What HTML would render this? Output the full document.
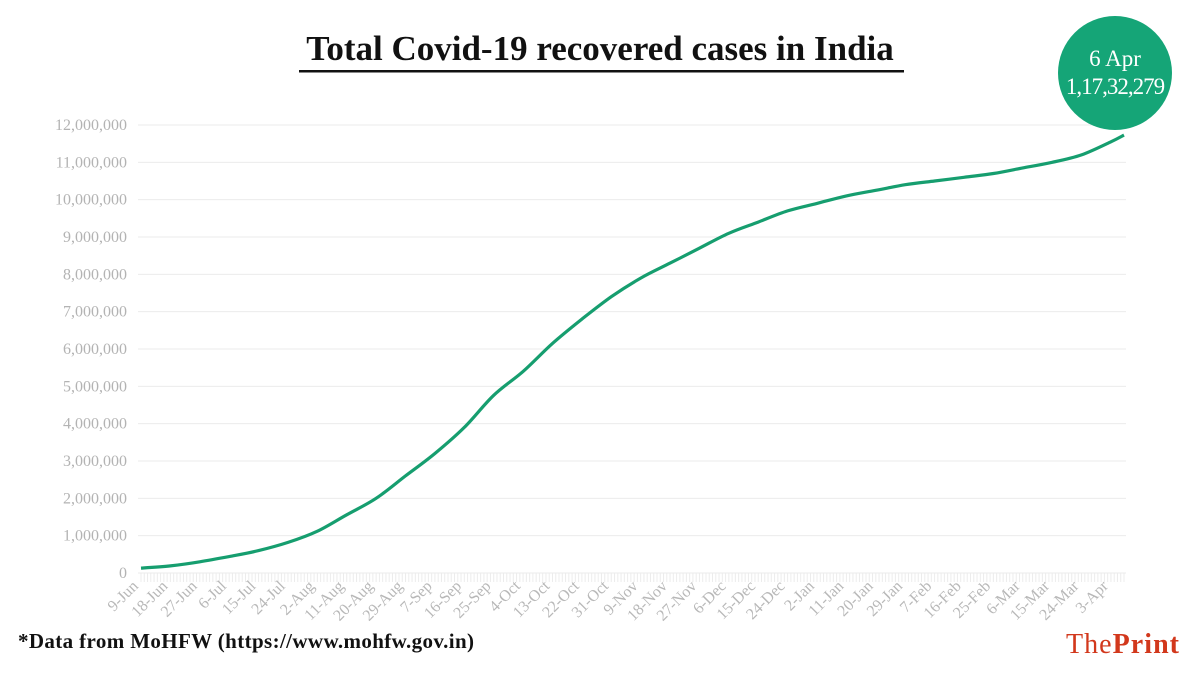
<!DOCTYPE html>
<html><head><meta charset="utf-8"><style>
body{margin:0;background:#fff;width:1200px;height:675px;overflow:hidden}
svg{display:block}
</style></head><body>
<svg id="c" width="1200" height="675" xmlns="http://www.w3.org/2000/svg">
<text x="600" y="60" text-anchor="middle" font-family="Liberation Serif, serif" font-weight="bold" font-size="35" fill="#111">Total Covid-19 recovered cases in India</text>
<rect x="299" y="70" width="605" height="2.5" fill="#111"/>
<g id="grid"></g><g id="ticks"></g><g id="ylabels"></g><g id="xlabels"></g>
<path id="line" fill="none" stroke="#169e6f" stroke-width="3.2" stroke-linejoin="round"/>
<circle cx="1115" cy="73" r="57" fill="#15a577"/>
<text x="1115" y="66" text-anchor="middle" font-family="Liberation Serif, serif" font-size="23" fill="#fff">6 Apr</text>
<text x="1115" y="94" text-anchor="middle" font-family="Liberation Serif, serif" font-size="23" fill="#fff" letter-spacing="-1">1,17,32,279</text>
<text x="18" y="648" font-family="Liberation Serif, serif" font-weight="bold" font-size="21" fill="#111" textLength="456">*Data from MoHFW (https://www.mohfw.gov.in)</text>
<text x="1066" y="653" font-family="Liberation Serif, serif" font-size="28" fill="#d2381c" textLength="113">The<tspan font-weight="bold">Print</tspan></text>
</svg>
<script>
const days=[0,9,18,27,36,45,54,63,72,81,90,99,108,117,126,135,144,153,162,171,180,189,198,207,216,225,234,243,252,261,270,279,288,297,301];
const values=[0.13,0.19,0.30,0.44,0.60,0.82,1.12,1.56,2.0,2.6,3.2,3.9,4.76,5.4,6.15,6.8,7.4,7.9,8.3,8.7,9.1,9.4,9.7,9.9,10.1,10.25,10.4,10.5,10.6,10.7,10.85,11.0,11.2,11.55,11.73];
const yTicks=[0,1,2,3,4,5,6,7,8,9,10,11,12];
const yTickLabels=["0","1,000,000","2,000,000","3,000,000","4,000,000","5,000,000","6,000,000","7,000,000","8,000,000","9,000,000","10,000,000","11,000,000","12,000,000"];
const xLabels=["9-Jun","18-Jun","27-Jun","6-Jul","15-Jul","24-Jul","2-Aug","11-Aug","20-Aug","29-Aug","7-Sep","16-Sep","25-Sep","4-Oct","13-Oct","22-Oct","31-Oct","9-Nov","18-Nov","27-Nov","6-Dec","15-Dec","24-Dec","2-Jan","11-Jan","20-Jan","29-Jan","7-Feb","16-Feb","25-Feb","6-Mar","15-Mar","24-Mar","3-Apr"];
const NS="http://www.w3.org/2000/svg";
const x=d=>141+d*(1124-141)/301;
const y=v=>573-v*(573-125)/12;
function mk(t,a,p){const e=document.createElementNS(NS,t);for(const k in a)e.setAttribute(k,a[k]);p.appendChild(e);return e;}
const grid=document.getElementById('grid'),yl=document.getElementById('ylabels'),xl=document.getElementById('xlabels'),tk=document.getElementById('ticks');
yTicks.forEach((v,i)=>{
 const l=mk('line',{x1:138,x2:1126,y1:y(v),y2:y(v),stroke:'#ebebeb','stroke-width':1},grid);
 
 
 const t=mk('text',{x:127,y:y(v)+5,'text-anchor':'end','font-family':'Liberation Serif, serif','font-size':16,fill:'#b3b3b3'},yl);
 t.textContent=yTickLabels[i];
 
 
});
for(let d=0;d<=301;d++){
 const l=mk('line',{x1:x(d),x2:x(d),y1:573,y2:582,stroke:'#ececec','stroke-width':1},tk);
 
 
}
xLabels.forEach((s,i)=>{
 const px=x(i*9)-2,py=587;
 const t=mk('text',{x:px,y:py,'text-anchor':'end','font-family':'Liberation Serif, serif','font-size':16,fill:'#b8b8b8',transform:`rotate(-45 ${px} ${py})`},xl);
 t.textContent=s;
 
 
});
const P=days.map((dd,i)=>[x(dd),y(values[i])]);
let d='M'+P[0][0].toFixed(1)+','+P[0][1].toFixed(1);
for(let i=0;i<P.length-1;i++){
 const p0=P[Math.max(0,i-1)],p1=P[i],p2=P[i+1],p3=P[Math.min(P.length-1,i+2)];
 const c1=[p1[0]+(p2[0]-p0[0])/6,p1[1]+(p2[1]-p0[1])/6];
 const c2=[p2[0]-(p3[0]-p1[0])/6,p2[1]-(p3[1]-p1[1])/6];
 d+='C'+c1.map(v=>v.toFixed(1)).join(',')+' '+c2.map(v=>v.toFixed(1)).join(',')+' '+p2.map(v=>v.toFixed(1)).join(',');
}
document.getElementById('line').setAttribute('d',d);
</script>
</body></html>
